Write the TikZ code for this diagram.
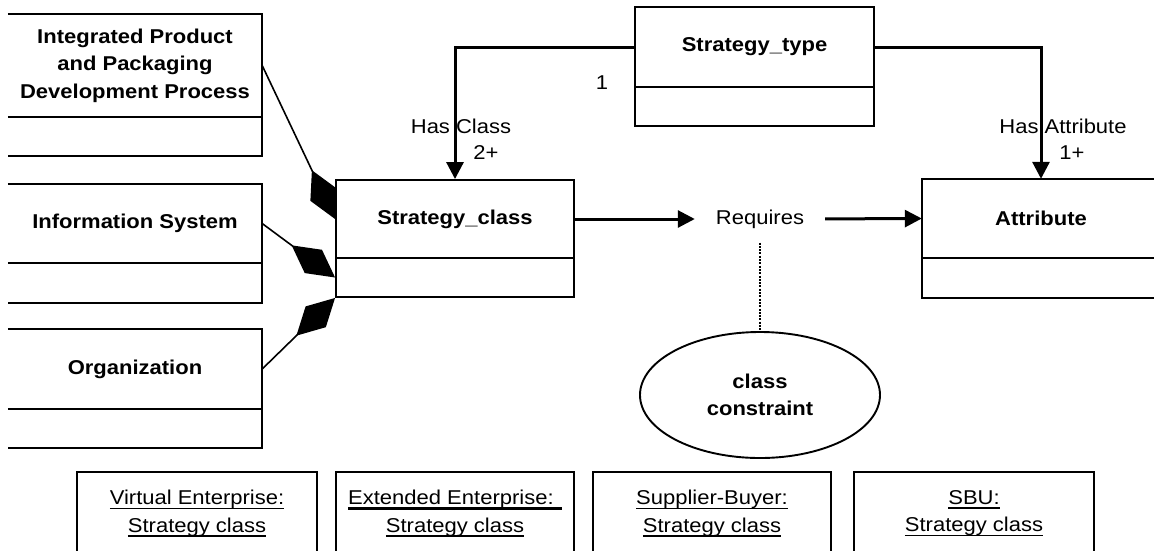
\documentclass[tikz,border=0pt]{standalone}
\usepackage{fontspec}
\setmainfont{Liberation Sans}[FakeStretch=1.1]
\usetikzlibrary{arrows.meta,shapes.geometric}
\newsavebox\ulbox
\newcommand\myul[1]{\sbox\ulbox{#1}\rlap{\rule[-4.5pt]{\wd\ulbox}{1.5pt}}\usebox\ulbox}
\newcommand\thkul[1]{\sbox\ulbox{#1}\rlap{\rule[-5pt]{\wd\ulbox}{2.6pt}}\usebox\ulbox}
\begin{document}
\begin{tikzpicture}[x=1pt,y=-1pt,
  every node/.style={font=\fontsize{20}{27.5}\selectfont, align=center, inner sep=0pt},
  bold/.style={font=\fontsize{20}{27.5}\selectfont\bfseries},
  comp/.style={minimum width=#1, draw=none, rectangle},
  boxline/.style={line width=1.9pt},
  cls/.style={draw, line width=1.9pt, rectangle},
  arr/.style={line width=3pt, -{Triangle[length=17pt,width=17pt]}},
  agg/.style={line width=1.6pt, -{Diamond[length=54pt,width=29pt]}},
  dotline/.style={line width=2.6pt, dash pattern=on 2pt off 1.3pt},
  inst/.style={minimum width=240pt, minimum height=83pt, draw=none, rectangle}
]
\useasboundingbox (0,0) rectangle (1154,550);
\clip (0,0) rectangle (1154,550);
\fill[white] (0,0) rectangle (1154,550);

% left classes (left side cut off)
\node[comp=254pt, minimum height=103pt, bold] (b1) at (135,65.5) {Integrated Product\\and Packaging\\Development Process};
\node[comp=254pt, minimum height=39pt] (b1a) at (135,136.5) {};
\node[comp=254pt, minimum height=79pt, bold] (b2) at (135,223.5) {Information System};
\node[comp=254pt, minimum height=40pt] (b2a) at (135,283) {};
\node[comp=254pt, minimum height=80pt, bold] (b3) at (135,369) {Organization};
\node[comp=254pt, minimum height=39pt] (b3a) at (135,428.5) {};
\foreach \n in {b1,b2,b3}{
  \draw[boxline] (\n.north west) -- (\n.north east) -- (\n a.south east) -- (\n a.south west);
  \draw[boxline] (\n.south west) -- (\n.south east);
}

% Strategy_class
\node[cls, minimum width=238pt, minimum height=78pt, bold] (sc) at (455,219) {Strategy\_class};
\node[cls, minimum width=238pt, minimum height=39pt] (sca) at (455,277.5) {};

% Strategy_type
\node[cls, minimum width=239pt, minimum height=80pt, bold] (st) at (754.5,47) {Strategy\_type};
\node[cls, minimum width=239pt, minimum height=39pt] (sta) at (754.5,106.5) {};

% Attribute (right side cut off)
\node[comp=238pt, minimum height=79pt, bold] (at) at (1041,218.5) {Attribute};
\node[comp=238pt, minimum height=40pt] (ata) at (1041,278) {};
\draw[boxline] (at.north east) -- (at.north west) -- (ata.south west) -- (ata.south east);
\draw[boxline] (at.south west) -- (at.south east);

% associations
\draw[arr] (st.west) -| (sc.north);
\draw[arr] (st.east) -| (at.north);
\node (one) at (602,83) {1};
\node (hc) at (461,126) {Has Class};
\node (two) at (486,153) {2+};
\node (ha) at (1063,126) {Has Attribute};
\node (onep) at (1072,153) {1+};

% Requires
\node (req) at (760,219) {Requires};
\draw[arr, shorten >=21pt] (sc.east) -- (req.west);
\draw[arr, shorten <=21pt] (req.east) -- (at.west);

% constraint
\node[ellipse, draw, line width=1.9pt, minimum width=240pt, minimum height=126pt, bold] (cc) at (760,395) {class\\constraint};
\draw[dotline, shorten <=14pt] (req.south) -- (cc.north);

% aggregations
\draw[agg] (b1.east) -- (sc.west);
\draw[agg] (b2.east) -- (sca.west);
\draw[agg] (b3.east) -- (sca.south west);

% instances (bottom cut off)
\node[inst] (v1) at (197,513.5) {};
\node[inst, minimum width=238pt] (v2) at (455,513.5) {};
\node[inst, minimum width=238pt] (v3) at (712,513.5) {};
\node[inst] (v4) at (974,513.5) {};
\foreach \n in {v1,v2,v3,v4}{
  \draw[boxline] ([yshift=-20pt]\n.south west) -- (\n.north west) -- (\n.north east) -- ([yshift=-20pt]\n.south east);
}
\node (t1) at (v1) {\myul{Virtual Enterprise:}\\\myul{Strategy class}};
\node (t2) at (v2) {\thkul{Extended Enterprise: }\\\myul{Strategy class}};
\node (t3) at (v3) {\myul{Supplier-Buyer:}\\\myul{Strategy class}};
\node (t4) at (v4) {\myul{SBU:}\\\myul{Strategy class}};
\end{tikzpicture}
\end{document}
